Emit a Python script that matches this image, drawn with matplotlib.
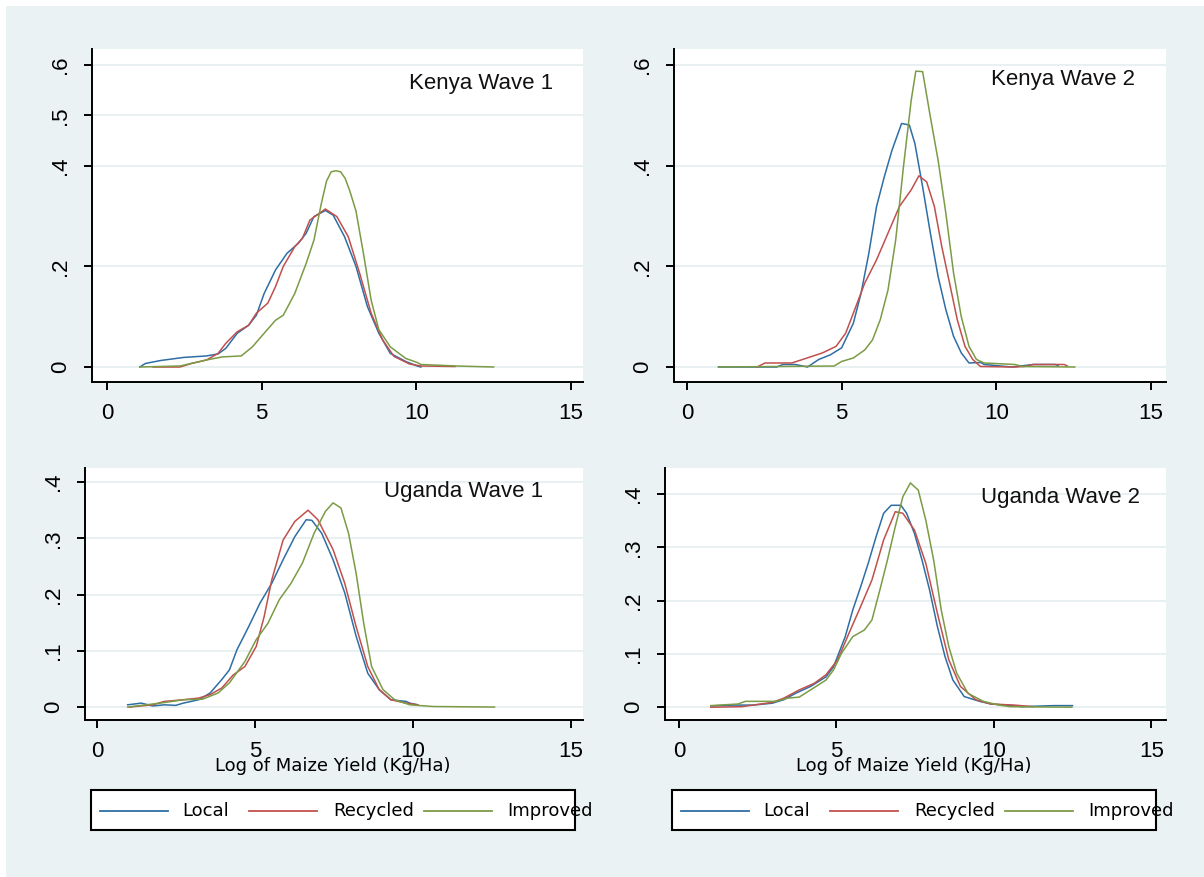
import matplotlib
matplotlib.use("Agg")
import matplotlib.pyplot as plt
from matplotlib.lines import Line2D
from matplotlib.patches import Rectangle

# ---------------- data ----------------
series_names = ["Local", "Recycled", "Improved"]
panel_titles = ["Kenya Wave 1", "Kenya Wave 2", "Uganda Wave 1", "Uganda Wave 2"]
x_label = "Log of Maize Yield (Kg/Ha)"
x_ticks = [0, 5, 10, 15]
x_tick_labels = ["0", "5", "10", "15"]
y_ticks_kw1 = [0, 0.2, 0.4, 0.5, 0.6]
y_labels_kw1 = ["0", ".2", ".4", ".5", ".6"]
y_ticks_kw2 = [0, 0.2, 0.4, 0.6]
y_labels_kw2 = ["0", ".2", ".4", ".6"]
y_ticks_ug = [0, 0.1, 0.2, 0.3, 0.4]
y_labels_ug = ["0", ".1", ".2", ".3", ".4"]

# Kenya Wave 1
kw1_local_x = [1.06,1.24,1.74,2.48,3.22,3.59,3.84,4.21,4.58,4.83,5.08,5.45,5.82,6.19,6.44,6.69,7.06,7.31,7.68,8.05,8.42,8.79,9.16,9.66,10.03,10.15]
kw1_local_y = [0,0.007,0.013,0.019,0.022,0.026,0.037,0.067,0.083,0.103,0.146,0.193,0.226,0.246,0.266,0.299,0.311,0.302,0.259,0.2,0.12,0.067,0.027,0.011,0.002,0.0]
kw1_recyc_x = [1.49,2.36,2.73,3.22,3.59,3.84,4.21,4.58,4.83,5.2,5.45,5.7,6.07,6.32,6.56,7.06,7.43,7.8,8.17,8.54,8.91,9.28,9.78,10.15,11.25]
kw1_recyc_y = [0,0,0.007,0.014,0.027,0.047,0.07,0.083,0.107,0.127,0.16,0.2,0.239,0.256,0.292,0.314,0.299,0.259,0.186,0.107,0.054,0.021,0.006,0.002,0.001]
kw1_impr_x = [1.06,2.36,3.22,3.72,4.34,4.7,5.08,5.45,5.7,6.07,6.44,6.69,6.93,7.1,7.25,7.4,7.55,7.7,7.85,8.05,8.29,8.54,8.79,9.16,9.66,10.03,10.15,11.3,12.5]
kw1_impr_y = [0,0.002,0.014,0.02,0.022,0.04,0.067,0.093,0.103,0.146,0.206,0.252,0.325,0.37,0.388,0.39,0.388,0.375,0.35,0.31,0.226,0.133,0.074,0.04,0.017,0.009,0.005,0.002,0]

# Kenya Wave 2
kw2_local_x = [1.02,2.9,3.1,3.5,3.9,4.26,4.63,5.0,5.38,5.63,5.88,6.13,6.38,6.63,6.94,7.19,7.37,7.62,7.87,8.12,8.37,8.62,8.87,9.12,9.5,9.61,10.5,11.2,11.9,12.0]
kw2_local_y = [0,0,0.005,0.005,0,0.015,0.024,0.038,0.087,0.147,0.226,0.319,0.378,0.431,0.484,0.481,0.444,0.358,0.266,0.18,0.114,0.061,0.028,0.008,0.009,0.005,0,0.005,0.005,0.003]
kw2_recyc_x = [2.27,2.52,3.39,3.89,4.38,4.82,5.13,5.38,5.75,6.13,6.5,6.87,7.25,7.5,7.75,8.0,8.24,8.49,8.74,8.99,9.24,9.49,10.6,10.9,11.2,12.2,12.3]
kw2_recyc_y = [0,0.008,0.008,0.018,0.028,0.041,0.067,0.107,0.167,0.213,0.266,0.319,0.352,0.38,0.368,0.319,0.239,0.167,0.094,0.041,0.015,0.001,0,0.001,0.005,0.005,0.002]
kw2_impr_x = [1.02,4.76,5.0,5.38,5.75,6.0,6.25,6.5,6.75,7.0,7.25,7.4,7.62,7.87,8.12,8.37,8.62,8.87,9.12,9.36,9.61,10.6,10.86,12.54]
kw2_impr_y = [0,0.002,0.011,0.018,0.034,0.054,0.094,0.153,0.253,0.398,0.53,0.588,0.587,0.497,0.411,0.306,0.187,0.1,0.041,0.015,0.008,0.005,0.001,0]

# Uganda Wave 1
uw1_local_x = [0.97,1.4,1.76,2.13,2.49,2.73,3.22,3.58,3.95,4.19,4.43,4.8,5.16,5.53,5.89,6.26,6.62,6.8,7.11,7.47,7.84,8.2,8.57,8.93,9.3,9.78,9.9,10.15]
uw1_local_y = [0.004,0.007,0.002,0.004,0.003,0.007,0.013,0.025,0.049,0.066,0.102,0.143,0.185,0.22,0.262,0.303,0.333,0.332,0.309,0.262,0.203,0.126,0.06,0.031,0.013,0.01,0.007,0.004]
uw1_recyc_x = [1.03,1.76,2.13,2.73,3.22,3.58,3.95,4.31,4.68,5.04,5.29,5.53,5.89,6.26,6.68,6.99,7.47,7.84,8.2,8.57,8.93,9.3,9.78,10.15]
uw1_recyc_y = [0,0.004,0.01,0.013,0.016,0.022,0.034,0.057,0.072,0.108,0.161,0.226,0.297,0.33,0.35,0.333,0.28,0.22,0.143,0.072,0.031,0.013,0.007,0.004]
uw1_impr_x = [0.97,2.0,2.73,3.34,3.83,4.19,4.68,5.04,5.41,5.77,6.14,6.5,6.87,7.23,7.47,7.72,7.96,8.2,8.44,8.69,9.05,9.42,9.9,10.63,12.58]
uw1_impr_y = [0,0.007,0.013,0.014,0.025,0.043,0.081,0.12,0.149,0.191,0.22,0.256,0.309,0.348,0.363,0.354,0.309,0.238,0.149,0.072,0.031,0.013,0.004,0.001,0]

# Uganda Wave 2
uw2_local_x = [1.01,1.74,2.35,2.96,3.33,3.7,4.18,4.67,4.91,5.28,5.52,5.77,6.01,6.26,6.5,6.74,7.05,7.23,7.48,7.72,7.96,8.21,8.45,8.7,9.06,9.55,9.91,10.4,10.89,11.9,12.5]
uw2_local_y = [0.0025,0.004,0.004,0.0075,0.014,0.026,0.039,0.057,0.076,0.1325,0.1825,0.226,0.27,0.32,0.364,0.379,0.379,0.364,0.326,0.276,0.22,0.151,0.095,0.051,0.02,0.011,0.006,0.004,0.001,0.003,0.003]
uw2_recyc_x = [1.01,1.99,2.35,2.96,3.33,3.82,4.3,4.67,5.04,5.4,5.77,6.13,6.5,6.87,7.11,7.48,7.84,8.21,8.57,8.94,9.43,9.91,10.65,11.26]
uw2_recyc_y = [0,0.001,0.004,0.009,0.017,0.0325,0.045,0.061,0.089,0.139,0.189,0.239,0.314,0.367,0.364,0.3325,0.27,0.176,0.089,0.039,0.014,0.006,0.004,0.001]
uw2_impr_x = [1.01,1.87,2.11,3.09,3.45,3.82,4.18,4.67,4.91,5.16,5.52,5.89,6.13,6.38,6.62,6.87,7.11,7.35,7.6,7.84,8.09,8.33,8.57,8.82,9.18,9.67,10.16,10.52,12.48]
uw2_impr_y = [0.003,0.006,0.011,0.011,0.017,0.019,0.0325,0.051,0.07,0.101,0.1325,0.145,0.164,0.22,0.276,0.339,0.395,0.421,0.4075,0.351,0.276,0.1825,0.114,0.064,0.026,0.011,0.004,0.001,0]

# ---------------- style ----------------
W, H = 1204, 877
BG = "#eaf2f3"
GRID = "#e4eeef"
COLORS = ["#2e6ea5", "#c0504d", "#7b9b45"]
TICK_FONT = "Liberation Sans"
TEXT_FONT = "DejaVu Sans"

fig = plt.figure(figsize=(W / 100, H / 100), dpi=100)
fig.patch.set_facecolor("white")
fig.add_artist(Rectangle((6 / W, 0), 1 - 6 / W, 1 - 6 / H, transform=fig.transFigure,
                         facecolor=BG, edgecolor="none", zorder=-10))


def rect(l, r, t, b):
    return [l / W, 1 - b / H, (r - l) / W, (b - t) / H]


panels = [
    dict(rect=rect(92, 583, 49, 382), xlim=(-0.485, 15.39), ylim=(-0.0298, 0.632),
         yt=y_ticks_kw1, yl=y_labels_kw1, title_xy=(409, 83),
         data=[(kw1_local_x, kw1_local_y), (kw1_recyc_x, kw1_recyc_y), (kw1_impr_x, kw1_impr_y)],
         legend=False),
    dict(rect=rect(674, 1166, 49, 382), xlim=(-0.42, 15.49), ylim=(-0.0298, 0.632),
         yt=y_ticks_kw2, yl=y_labels_kw2, title_xy=(991, 80),
         data=[(kw2_local_x, kw2_local_y), (kw2_recyc_x, kw2_recyc_y), (kw2_impr_x, kw2_impr_y)],
         legend=False),
    dict(rect=rect(85, 583, 468, 720), xlim=(-0.38, 15.38), ylim=(-0.023, 0.425),
         yt=y_ticks_ug, yl=y_labels_ug, title_xy=(384, 492),
         data=[(uw1_local_x, uw1_local_y), (uw1_recyc_x, uw1_recyc_y), (uw1_impr_x, uw1_impr_y)],
         legend=True, leg_left=91, xlab_cx=333),
    dict(rect=rect(665, 1166, 468, 720), xlim=(-0.445, 15.47), ylim=(-0.024, 0.449),
         yt=y_ticks_ug, yl=y_labels_ug, title_xy=(981, 498),
         data=[(uw2_local_x, uw2_local_y), (uw2_recyc_x, uw2_recyc_y), (uw2_impr_x, uw2_impr_y)],
         legend=True, leg_left=672, xlab_cx=914),
]

for i, p in enumerate(panels):
    ax = fig.add_axes(p["rect"])
    ax.set_facecolor("white")
    for (xs, ys), c, name in zip(p["data"], COLORS, series_names):
        ax.plot(xs, ys, color=c, lw=1.1, label=name, zorder=3)
    ax.set_xlim(*p["xlim"])
    ax.set_ylim(*p["ylim"])
    ax.set_xticks(x_ticks)
    ax.set_xticklabels(x_tick_labels, fontfamily=TICK_FONT, fontsize=16)
    ax.set_yticks(p["yt"])
    ax.set_yticklabels(p["yl"], fontfamily=TICK_FONT, fontsize=16, rotation=90, va="center")
    for yv in p["yt"]:
        ax.axhline(yv, color=GRID, lw=1.2, zorder=1)
    for s in ["top", "right"]:
        ax.spines[s].set_visible(False)
    for s in ["left", "bottom"]:
        ax.spines[s].set_linewidth(1.4)
        ax.spines[s].set_color("black")
    ax.tick_params(axis="both", length=6, width=1.4, color="black", pad=9)
    tx, ty = p["title_xy"]
    fig.text(tx / W, 1 - ty / H, panel_titles[i], fontfamily=TICK_FONT, fontsize=16,
             ha="left", va="center", color="#111111")

    if p["legend"]:
        fig.text(p["xlab_cx"] / W, 1 - 766 / H, x_label, fontfamily=TEXT_FONT, fontsize=13,
                 ha="center", va="center", color="black")
        L = p["leg_left"]
        fig.add_artist(Rectangle((L / W, 1 - 830 / H), 484 / W, 40 / H, transform=fig.transFigure,
                                 facecolor="white", edgecolor="black", lw=1.5, zorder=5))
        line_offsets = [(9, 77), (158, 226), (333, 401)]
        text_offsets = [91, 242, 416]
        yc = 1 - 811 / H
        for (a, b), to, c, name in zip(line_offsets, text_offsets, COLORS, series_names):
            fig.add_artist(Line2D([(L + a) / W, (L + b) / W], [yc, yc], transform=fig.transFigure,
                                  color=c, lw=1.3, zorder=6))
            fig.text((L + to) / W, yc, name, fontfamily=TEXT_FONT, fontsize=13,
                     ha="left", va="center", color="black", zorder=7)

fig.savefig("out.png", dpi=100, facecolor=fig.get_facecolor())
